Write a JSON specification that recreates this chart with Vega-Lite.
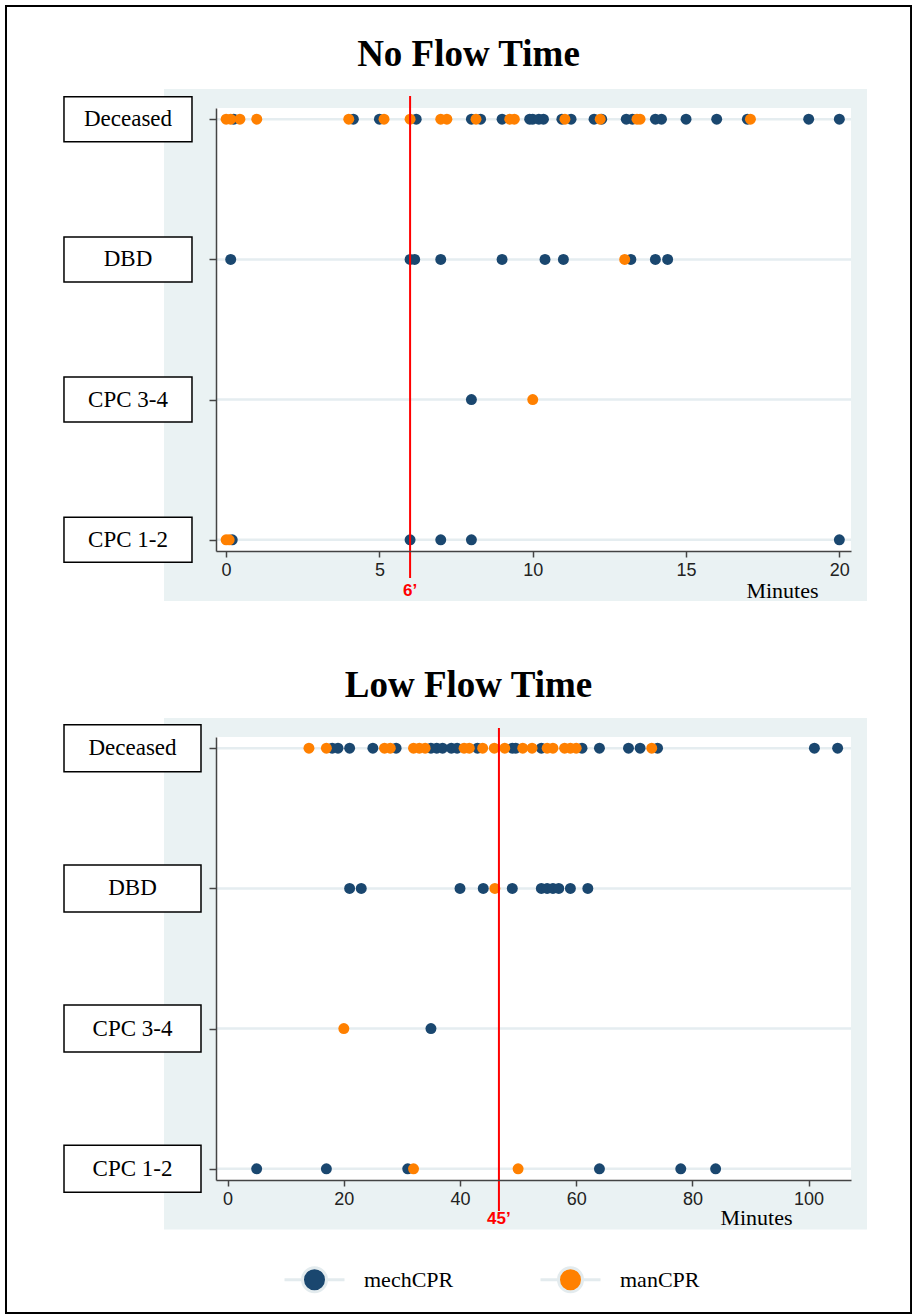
{
  "$schema": "https://vega.github.io/schema/vega-lite/v6.json",
  "padding": {"left": 4, "top": 4, "right": 1, "bottom": 1},
  "background": "white",
  "bounds": "flush",
  "spacing": 186,
  "config": {"view": {"stroke": null}, "font": "Liberation Serif"},
  "datasets": {
    "outcomes": [
      {"outcome": "Deceased", "rank": 3},
      {"outcome": "DBD", "rank": 2},
      {"outcome": "CPC 3-4", "rank": 1},
      {"outcome": "CPC 1-2", "rank": 0}
    ],
    "cutoffs": [
      {"panel": "No Flow Time", "minutes": 6, "label": "6’"},
      {"panel": "Low Flow Time", "minutes": 46.7, "label": "45’"}
    ],
    "panels": [
      {"panel": "No Flow Time"},
      {"panel": "Low Flow Time"}
    ],
    "points": [
      {"panel": "No Flow Time", "outcome": "Deceased", "group": "mechCPR", "minutes": 0.25},
      {"panel": "No Flow Time", "outcome": "Deceased", "group": "mechCPR", "minutes": 4.15},
      {"panel": "No Flow Time", "outcome": "Deceased", "group": "mechCPR", "minutes": 5.0},
      {"panel": "No Flow Time", "outcome": "Deceased", "group": "mechCPR", "minutes": 6.2},
      {"panel": "No Flow Time", "outcome": "Deceased", "group": "mechCPR", "minutes": 8.0},
      {"panel": "No Flow Time", "outcome": "Deceased", "group": "mechCPR", "minutes": 8.3},
      {"panel": "No Flow Time", "outcome": "Deceased", "group": "mechCPR", "minutes": 9.0},
      {"panel": "No Flow Time", "outcome": "Deceased", "group": "mechCPR", "minutes": 9.9},
      {"panel": "No Flow Time", "outcome": "Deceased", "group": "mechCPR", "minutes": 10.0},
      {"panel": "No Flow Time", "outcome": "Deceased", "group": "mechCPR", "minutes": 10.2},
      {"panel": "No Flow Time", "outcome": "Deceased", "group": "mechCPR", "minutes": 10.35},
      {"panel": "No Flow Time", "outcome": "Deceased", "group": "mechCPR", "minutes": 10.95},
      {"panel": "No Flow Time", "outcome": "Deceased", "group": "mechCPR", "minutes": 11.25},
      {"panel": "No Flow Time", "outcome": "Deceased", "group": "mechCPR", "minutes": 12.0},
      {"panel": "No Flow Time", "outcome": "Deceased", "group": "mechCPR", "minutes": 12.25},
      {"panel": "No Flow Time", "outcome": "Deceased", "group": "mechCPR", "minutes": 13.05},
      {"panel": "No Flow Time", "outcome": "Deceased", "group": "mechCPR", "minutes": 13.25},
      {"panel": "No Flow Time", "outcome": "Deceased", "group": "mechCPR", "minutes": 14.0},
      {"panel": "No Flow Time", "outcome": "Deceased", "group": "mechCPR", "minutes": 14.2},
      {"panel": "No Flow Time", "outcome": "Deceased", "group": "mechCPR", "minutes": 15.0},
      {"panel": "No Flow Time", "outcome": "Deceased", "group": "mechCPR", "minutes": 16.0},
      {"panel": "No Flow Time", "outcome": "Deceased", "group": "mechCPR", "minutes": 17.0},
      {"panel": "No Flow Time", "outcome": "Deceased", "group": "mechCPR", "minutes": 19.0},
      {"panel": "No Flow Time", "outcome": "Deceased", "group": "mechCPR", "minutes": 20.0},
      {"panel": "No Flow Time", "outcome": "DBD", "group": "mechCPR", "minutes": 0.15},
      {"panel": "No Flow Time", "outcome": "DBD", "group": "mechCPR", "minutes": 6.0},
      {"panel": "No Flow Time", "outcome": "DBD", "group": "mechCPR", "minutes": 6.15},
      {"panel": "No Flow Time", "outcome": "DBD", "group": "mechCPR", "minutes": 7.0},
      {"panel": "No Flow Time", "outcome": "DBD", "group": "mechCPR", "minutes": 9.0},
      {"panel": "No Flow Time", "outcome": "DBD", "group": "mechCPR", "minutes": 10.4},
      {"panel": "No Flow Time", "outcome": "DBD", "group": "mechCPR", "minutes": 11.0},
      {"panel": "No Flow Time", "outcome": "DBD", "group": "mechCPR", "minutes": 13.2},
      {"panel": "No Flow Time", "outcome": "DBD", "group": "mechCPR", "minutes": 14.0},
      {"panel": "No Flow Time", "outcome": "DBD", "group": "mechCPR", "minutes": 14.4},
      {"panel": "No Flow Time", "outcome": "CPC 3-4", "group": "mechCPR", "minutes": 8.0},
      {"panel": "No Flow Time", "outcome": "CPC 1-2", "group": "mechCPR", "minutes": 0.2},
      {"panel": "No Flow Time", "outcome": "CPC 1-2", "group": "mechCPR", "minutes": 6.0},
      {"panel": "No Flow Time", "outcome": "CPC 1-2", "group": "mechCPR", "minutes": 7.0},
      {"panel": "No Flow Time", "outcome": "CPC 1-2", "group": "mechCPR", "minutes": 8.0},
      {"panel": "No Flow Time", "outcome": "CPC 1-2", "group": "mechCPR", "minutes": 20.0},
      {"panel": "No Flow Time", "outcome": "Deceased", "group": "manCPR", "minutes": 0.0},
      {"panel": "No Flow Time", "outcome": "Deceased", "group": "manCPR", "minutes": 0.15},
      {"panel": "No Flow Time", "outcome": "Deceased", "group": "manCPR", "minutes": 0.45},
      {"panel": "No Flow Time", "outcome": "Deceased", "group": "manCPR", "minutes": 1.0},
      {"panel": "No Flow Time", "outcome": "Deceased", "group": "manCPR", "minutes": 4.0},
      {"panel": "No Flow Time", "outcome": "Deceased", "group": "manCPR", "minutes": 5.15},
      {"panel": "No Flow Time", "outcome": "Deceased", "group": "manCPR", "minutes": 6.0},
      {"panel": "No Flow Time", "outcome": "Deceased", "group": "manCPR", "minutes": 7.0},
      {"panel": "No Flow Time", "outcome": "Deceased", "group": "manCPR", "minutes": 7.2},
      {"panel": "No Flow Time", "outcome": "Deceased", "group": "manCPR", "minutes": 8.15},
      {"panel": "No Flow Time", "outcome": "Deceased", "group": "manCPR", "minutes": 9.25},
      {"panel": "No Flow Time", "outcome": "Deceased", "group": "manCPR", "minutes": 9.4},
      {"panel": "No Flow Time", "outcome": "Deceased", "group": "manCPR", "minutes": 11.05},
      {"panel": "No Flow Time", "outcome": "Deceased", "group": "manCPR", "minutes": 12.2},
      {"panel": "No Flow Time", "outcome": "Deceased", "group": "manCPR", "minutes": 13.4},
      {"panel": "No Flow Time", "outcome": "Deceased", "group": "manCPR", "minutes": 13.5},
      {"panel": "No Flow Time", "outcome": "Deceased", "group": "manCPR", "minutes": 17.1},
      {"panel": "No Flow Time", "outcome": "DBD", "group": "manCPR", "minutes": 13.0},
      {"panel": "No Flow Time", "outcome": "CPC 3-4", "group": "manCPR", "minutes": 10.0},
      {"panel": "No Flow Time", "outcome": "CPC 1-2", "group": "manCPR", "minutes": 0.0},
      {"panel": "No Flow Time", "outcome": "CPC 1-2", "group": "manCPR", "minutes": 0.1},
      {"panel": "Low Flow Time", "outcome": "Deceased", "group": "mechCPR", "minutes": 18},
      {"panel": "Low Flow Time", "outcome": "Deceased", "group": "mechCPR", "minutes": 19},
      {"panel": "Low Flow Time", "outcome": "Deceased", "group": "mechCPR", "minutes": 21},
      {"panel": "Low Flow Time", "outcome": "Deceased", "group": "mechCPR", "minutes": 25},
      {"panel": "Low Flow Time", "outcome": "Deceased", "group": "mechCPR", "minutes": 29},
      {"panel": "Low Flow Time", "outcome": "Deceased", "group": "mechCPR", "minutes": 35},
      {"panel": "Low Flow Time", "outcome": "Deceased", "group": "mechCPR", "minutes": 36},
      {"panel": "Low Flow Time", "outcome": "Deceased", "group": "mechCPR", "minutes": 37},
      {"panel": "Low Flow Time", "outcome": "Deceased", "group": "mechCPR", "minutes": 38.5},
      {"panel": "Low Flow Time", "outcome": "Deceased", "group": "mechCPR", "minutes": 39.5},
      {"panel": "Low Flow Time", "outcome": "Deceased", "group": "mechCPR", "minutes": 43},
      {"panel": "Low Flow Time", "outcome": "Deceased", "group": "mechCPR", "minutes": 49},
      {"panel": "Low Flow Time", "outcome": "Deceased", "group": "mechCPR", "minutes": 49.6},
      {"panel": "Low Flow Time", "outcome": "Deceased", "group": "mechCPR", "minutes": 54},
      {"panel": "Low Flow Time", "outcome": "Deceased", "group": "mechCPR", "minutes": 61},
      {"panel": "Low Flow Time", "outcome": "Deceased", "group": "mechCPR", "minutes": 64},
      {"panel": "Low Flow Time", "outcome": "Deceased", "group": "mechCPR", "minutes": 69},
      {"panel": "Low Flow Time", "outcome": "Deceased", "group": "mechCPR", "minutes": 71},
      {"panel": "Low Flow Time", "outcome": "Deceased", "group": "mechCPR", "minutes": 74},
      {"panel": "Low Flow Time", "outcome": "Deceased", "group": "mechCPR", "minutes": 101},
      {"panel": "Low Flow Time", "outcome": "Deceased", "group": "mechCPR", "minutes": 105},
      {"panel": "Low Flow Time", "outcome": "DBD", "group": "mechCPR", "minutes": 21},
      {"panel": "Low Flow Time", "outcome": "DBD", "group": "mechCPR", "minutes": 23},
      {"panel": "Low Flow Time", "outcome": "DBD", "group": "mechCPR", "minutes": 40},
      {"panel": "Low Flow Time", "outcome": "DBD", "group": "mechCPR", "minutes": 44},
      {"panel": "Low Flow Time", "outcome": "DBD", "group": "mechCPR", "minutes": 49},
      {"panel": "Low Flow Time", "outcome": "DBD", "group": "mechCPR", "minutes": 54},
      {"panel": "Low Flow Time", "outcome": "DBD", "group": "mechCPR", "minutes": 55},
      {"panel": "Low Flow Time", "outcome": "DBD", "group": "mechCPR", "minutes": 56},
      {"panel": "Low Flow Time", "outcome": "DBD", "group": "mechCPR", "minutes": 57},
      {"panel": "Low Flow Time", "outcome": "DBD", "group": "mechCPR", "minutes": 59},
      {"panel": "Low Flow Time", "outcome": "DBD", "group": "mechCPR", "minutes": 62},
      {"panel": "Low Flow Time", "outcome": "CPC 3-4", "group": "mechCPR", "minutes": 35},
      {"panel": "Low Flow Time", "outcome": "CPC 1-2", "group": "mechCPR", "minutes": 5},
      {"panel": "Low Flow Time", "outcome": "CPC 1-2", "group": "mechCPR", "minutes": 17},
      {"panel": "Low Flow Time", "outcome": "CPC 1-2", "group": "mechCPR", "minutes": 31},
      {"panel": "Low Flow Time", "outcome": "CPC 1-2", "group": "mechCPR", "minutes": 64},
      {"panel": "Low Flow Time", "outcome": "CPC 1-2", "group": "mechCPR", "minutes": 78},
      {"panel": "Low Flow Time", "outcome": "CPC 1-2", "group": "mechCPR", "minutes": 84},
      {"panel": "Low Flow Time", "outcome": "Deceased", "group": "manCPR", "minutes": 14},
      {"panel": "Low Flow Time", "outcome": "Deceased", "group": "manCPR", "minutes": 17},
      {"panel": "Low Flow Time", "outcome": "Deceased", "group": "manCPR", "minutes": 27},
      {"panel": "Low Flow Time", "outcome": "Deceased", "group": "manCPR", "minutes": 28},
      {"panel": "Low Flow Time", "outcome": "Deceased", "group": "manCPR", "minutes": 32},
      {"panel": "Low Flow Time", "outcome": "Deceased", "group": "manCPR", "minutes": 33},
      {"panel": "Low Flow Time", "outcome": "Deceased", "group": "manCPR", "minutes": 34},
      {"panel": "Low Flow Time", "outcome": "Deceased", "group": "manCPR", "minutes": 40.7},
      {"panel": "Low Flow Time", "outcome": "Deceased", "group": "manCPR", "minutes": 41.6},
      {"panel": "Low Flow Time", "outcome": "Deceased", "group": "manCPR", "minutes": 43.9},
      {"panel": "Low Flow Time", "outcome": "Deceased", "group": "manCPR", "minutes": 45.9},
      {"panel": "Low Flow Time", "outcome": "Deceased", "group": "manCPR", "minutes": 47.7},
      {"panel": "Low Flow Time", "outcome": "Deceased", "group": "manCPR", "minutes": 50.8},
      {"panel": "Low Flow Time", "outcome": "Deceased", "group": "manCPR", "minutes": 52.4},
      {"panel": "Low Flow Time", "outcome": "Deceased", "group": "manCPR", "minutes": 55},
      {"panel": "Low Flow Time", "outcome": "Deceased", "group": "manCPR", "minutes": 56},
      {"panel": "Low Flow Time", "outcome": "Deceased", "group": "manCPR", "minutes": 58},
      {"panel": "Low Flow Time", "outcome": "Deceased", "group": "manCPR", "minutes": 59},
      {"panel": "Low Flow Time", "outcome": "Deceased", "group": "manCPR", "minutes": 60},
      {"panel": "Low Flow Time", "outcome": "Deceased", "group": "manCPR", "minutes": 73},
      {"panel": "Low Flow Time", "outcome": "DBD", "group": "manCPR", "minutes": 46},
      {"panel": "Low Flow Time", "outcome": "CPC 3-4", "group": "manCPR", "minutes": 20},
      {"panel": "Low Flow Time", "outcome": "CPC 1-2", "group": "manCPR", "minutes": 32},
      {"panel": "Low Flow Time", "outcome": "CPC 1-2", "group": "manCPR", "minutes": 50}
    ]
  },
  "vconcat": [
    {
      "width": 635,
      "height": 443,
      "layer": [
        {
          "data": {"values": [{}]},
          "mark": {"type": "rect", "fill": "#eaf2f3"},
          "encoding": {
            "x": {"datum": -2.026, "type": "quantitative"},
            "x2": {"datum": 20.903},
            "y": {"datum": 3.2155, "type": "quantitative"},
            "y2": {"datum": -0.4367}
          }
        },
        {
          "data": {"values": [{}]},
          "mark": {"type": "rect", "filled": false, "stroke": "#000", "strokeWidth": 2},
          "encoding": {
            "x": {"datum": -7.179, "type": "quantitative"},
            "x2": {"datum": 22.338},
            "y": {"datum": 3.8076, "type": "quantitative"},
            "y2": {"datum": -5.5155}
          }
        },
        {
          "data": {"values": [{}]},
          "mark": {"type": "rect", "fill": "#ffffff"},
          "encoding": {
            "x": {"datum": -0.33, "type": "quantitative"},
            "x2": {"datum": 20.38},
            "y": {"datum": -0.08, "type": "quantitative"},
            "y2": {"datum": 3.08}
          }
        },
        {
          "data": {"name": "outcomes"},
          "mark": {"type": "rule", "color": "#e5edf0", "strokeWidth": 2.5},
          "encoding": {
            "x": {"datum": -0.33, "type": "quantitative"},
            "x2": {"datum": 20.38},
            "y": {"field": "rank", "type": "quantitative"}
          }
        },
        {
          "data": {"name": "points"},
          "transform": [
            {"filter": "datum.panel === 'No Flow Time'"},
            {"lookup": "outcome", "from": {"data": {"name": "outcomes"}, "key": "outcome", "fields": ["rank"]}}
          ],
          "mark": {"type": "point", "filled": true, "size": 120, "opacity": 1},
          "encoding": {
            "x": {"field": "minutes", "type": "quantitative", "scale": {"domain": [-0.33, 20.38], "nice": false, "zero": false},
              "axis": {"values": [0, 5, 10, 15, 20], "format": "d", "title": "Minutes", "titleFont": "Liberation Serif", "titleFontSize": 22, "titleFontWeight": "normal", "titleColor": "#000", "titleX": 602, "titleY": 46, "titleAlign": "right", "titleBaseline": "alphabetic", "labelFont": "Liberation Sans", "labelFontSize": 18, "labelColor": "#222", "labelFlush": false, "labelPadding": 4, "tickSize": 6, "tickColor": "#444", "tickWidth": 1.5, "domainColor": "#444", "domainWidth": 1.5, "grid": false, "zindex": 1}},
            "y": {"field": "rank", "type": "quantitative", "scale": {"domain": [-0.08, 3.08], "nice": false, "zero": false},
              "axis": {"values": [0, 1, 2, 3], "labels": false, "title": null, "tickSize": 7, "tickColor": "#444", "tickWidth": 1.5, "domainColor": "#444", "domainWidth": 1.5, "grid": false, "zindex": 1}},
            "color": {"field": "group", "type": "nominal", "scale": {"domain": ["mechCPR", "manCPR"], "range": ["#1a476f", "#ff8000"]},
              "legend": {"title": null, "orient": "none", "legendX": 67, "legendY": 1140, "direction": "horizontal", "padding": 0, "symbolType": "M-1,0H-0.4M0.4,0H1M0.4,0A0.4,0.4,0,1,1,-0.4,0A0.4,0.4,0,1,1,0.4,0Z", "symbolSize": 3600, "symbolStrokeColor": "#e3ebee", "symbolStrokeWidth": 3, "labelFont": "Liberation Serif", "labelFontSize": 22, "labelColor": "#000", "labelOffset": 18, "columnPadding": 80, "labelLimit": 200}}
          }
        },
        {
          "data": {"name": "cutoffs"},
          "transform": [{"filter": "datum.panel === 'No Flow Time'"}],
          "mark": {"type": "rule", "color": "#ff0000", "strokeWidth": 2},
          "encoding": {
            "x": {"field": "minutes", "type": "quantitative"},
            "y": {"datum": 3.1656, "type": "quantitative"},
            "y2": {"datum": -0.2726}
          }
        },
        {
          "data": {"name": "cutoffs"},
          "transform": [{"filter": "datum.panel === 'No Flow Time'"}],
          "mark": {"type": "text", "color": "#ff0000", "font": "Liberation Sans", "fontWeight": "bold", "fontSize": 17, "align": "center", "baseline": "middle"},
          "encoding": {
            "x": {"field": "minutes", "type": "quantitative"},
            "y": {"datum": -0.3654, "type": "quantitative"},
            "text": {"field": "label"}
          }
        },
        {
          "data": {"name": "outcomes"},
          "mark": {"type": "rect", "fill": "#ffffff", "stroke": "#000", "strokeWidth": 1.5, "height": 45},
          "encoding": {
            "x": {"datum": -5.288, "type": "quantitative"},
            "x2": {"datum": -1.113},
            "y": {"field": "rank", "type": "quantitative"}
          }
        },
        {
          "data": {"name": "outcomes"},
          "mark": {"type": "text", "font": "Liberation Serif", "fontSize": 23, "color": "#000", "align": "center", "baseline": "middle"},
          "encoding": {
            "x": {"datum": -3.2, "type": "quantitative"},
            "y": {"field": "rank", "type": "quantitative"},
            "text": {"field": "outcome"}
          }
        },
        {
          "data": {"name": "panels"},
          "transform": [{"filter": "datum.panel === 'No Flow Time'"}],
          "mark": {"type": "text", "font": "Liberation Serif", "fontSize": 37, "fontWeight": "bold", "color": "#000", "align": "center", "baseline": "alphabetic"},
          "encoding": {
            "x": {"datum": 7.905, "type": "quantitative"},
            "y": {"datum": 3.3796, "type": "quantitative"},
            "text": {"field": "panel"}
          }
        }
      ]
    },
    {
      "width": 635,
      "height": 443,
      "layer": [
        {
          "data": {"values": [{}]},
          "mark": {"type": "rect", "fill": "#eaf2f3"},
          "encoding": {
            "x": {"datum": -10.95, "type": "quantitative"},
            "x2": {"datum": 110.05},
            "y": {"datum": 3.2155, "type": "quantitative"},
            "y2": {"datum": -0.433}
          }
        },
        {
          "data": {"values": [{}]},
          "mark": {"type": "rect", "fill": "#ffffff"},
          "encoding": {
            "x": {"datum": -2.0, "type": "quantitative"},
            "x2": {"datum": 107.3},
            "y": {"datum": -0.08, "type": "quantitative"},
            "y2": {"datum": 3.08}
          }
        },
        {
          "data": {"name": "outcomes"},
          "mark": {"type": "rule", "color": "#e5edf0", "strokeWidth": 2.5},
          "encoding": {
            "x": {"datum": -2.0, "type": "quantitative"},
            "x2": {"datum": 107.3},
            "y": {"field": "rank", "type": "quantitative"}
          }
        },
        {
          "data": {"name": "points"},
          "transform": [
            {"filter": "datum.panel === 'Low Flow Time'"},
            {"lookup": "outcome", "from": {"data": {"name": "outcomes"}, "key": "outcome", "fields": ["rank"]}}
          ],
          "mark": {"type": "point", "filled": true, "size": 120, "opacity": 1},
          "encoding": {
            "x": {"field": "minutes", "type": "quantitative", "scale": {"domain": [-2.0, 107.3], "nice": false, "zero": false},
              "axis": {"values": [0, 20, 40, 60, 80, 100], "format": "d", "title": "Minutes", "titleFont": "Liberation Serif", "titleFontSize": 22, "titleFontWeight": "normal", "titleColor": "#000", "titleX": 576, "titleY": 44, "titleAlign": "right", "titleBaseline": "alphabetic", "labelFont": "Liberation Sans", "labelFontSize": 18, "labelColor": "#222", "labelFlush": false, "labelPadding": 4, "tickSize": 6, "tickColor": "#444", "tickWidth": 1.5, "domainColor": "#444", "domainWidth": 1.5, "grid": false, "zindex": 1}},
            "y": {"field": "rank", "type": "quantitative", "scale": {"domain": [-0.08, 3.08], "nice": false, "zero": false},
              "axis": {"values": [0, 1, 2, 3], "labels": false, "title": null, "tickSize": 7, "tickColor": "#444", "tickWidth": 1.5, "domainColor": "#444", "domainWidth": 1.5, "grid": false, "zindex": 1}},
            "color": {"field": "group", "type": "nominal", "scale": {"domain": ["mechCPR", "manCPR"], "range": ["#1a476f", "#ff8000"]},
              "legend": {"title": null, "orient": "none", "legendX": 67, "legendY": 1140, "direction": "horizontal", "padding": 0, "symbolType": "M-1,0H-0.4M0.4,0H1M0.4,0A0.4,0.4,0,1,1,-0.4,0A0.4,0.4,0,1,1,0.4,0Z", "symbolSize": 3600, "symbolStrokeColor": "#e3ebee", "symbolStrokeWidth": 3, "labelFont": "Liberation Serif", "labelFontSize": 22, "labelColor": "#000", "labelOffset": 18, "columnPadding": 80, "labelLimit": 200}}
          }
        },
        {
          "data": {"name": "cutoffs"},
          "transform": [{"filter": "datum.panel === 'Low Flow Time'"}],
          "mark": {"type": "rule", "color": "#ff0000", "strokeWidth": 2},
          "encoding": {
            "x": {"field": "minutes", "type": "quantitative"},
            "y": {"datum": 3.144, "type": "quantitative"},
            "y2": {"datum": -0.301}
          }
        },
        {
          "data": {"name": "cutoffs"},
          "transform": [{"filter": "datum.panel === 'Low Flow Time'"}],
          "mark": {"type": "text", "color": "#ff0000", "font": "Liberation Sans", "fontWeight": "bold", "fontSize": 17, "align": "center", "baseline": "middle"},
          "encoding": {
            "x": {"field": "minutes", "type": "quantitative"},
            "y": {"datum": -0.358, "type": "quantitative"},
            "text": {"field": "label"}
          }
        },
        {
          "data": {"name": "outcomes"},
          "mark": {"type": "rect", "fill": "#ffffff", "stroke": "#000", "strokeWidth": 1.5, "height": 47},
          "encoding": {
            "x": {"datum": -28.162, "type": "quantitative"},
            "x2": {"datum": -4.582},
            "y": {"field": "rank", "type": "quantitative"}
          }
        },
        {
          "data": {"name": "outcomes"},
          "mark": {"type": "text", "font": "Liberation Serif", "fontSize": 23, "color": "#000", "align": "center", "baseline": "middle"},
          "encoding": {
            "x": {"datum": -16.372, "type": "quantitative"},
            "y": {"field": "rank", "type": "quantitative"},
            "text": {"field": "outcome"}
          }
        },
        {
          "data": {"name": "panels"},
          "transform": [{"filter": "datum.panel === 'Low Flow Time'"}],
          "mark": {"type": "text", "font": "Liberation Serif", "fontSize": 37, "fontWeight": "bold", "color": "#000", "align": "center", "baseline": "alphabetic"},
          "encoding": {
            "x": {"datum": 41.46, "type": "quantitative"},
            "y": {"datum": 3.3653, "type": "quantitative"},
            "text": {"field": "panel"}
          }
        }
      ]
    }
  ]
}
